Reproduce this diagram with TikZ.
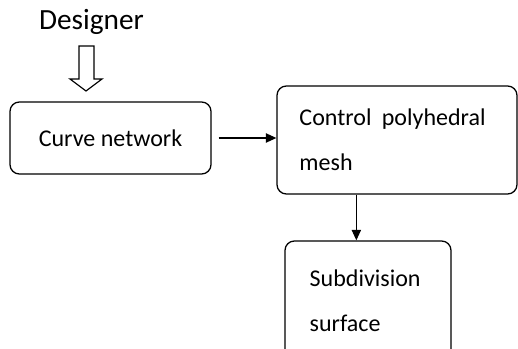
\documentclass[tikz,border=0pt]{standalone}
\usepackage{fontspec}
\setmainfont{Carlito}
\usepackage{tikz}
\usetikzlibrary{positioning, calc, arrows.meta}

\tikzset{
	stagebox/.style={draw, line width=1.1pt, rounded corners=8pt, inner sep=0pt, align=left, font=\fontsize{20.5}{38}\selectfont},
	flowarrow/.style={line width=1pt, -{Triangle[length=9pt, width=8pt]}}
}

\begin{document}
\begin{tikzpicture}[x=0.03cm, y=-0.03cm]
	\useasboundingbox (0,0) rectangle (518,349);
	\clip (0,0) rectangle (518,349);
	
	\node[anchor=base west, font=\fontsize{25}{28}\selectfont] (designer) at (35,30) {Designer};
	
	\node[stagebox, minimum width=6.03cm, minimum height=2.16cm] (network) at (110.5,138) {Curve network};
	\node[stagebox, minimum width=7.2cm, minimum height=3.24cm, text width=5.85cm] (control) at (397,140) {Control\hspace{2pt} polyhedral\\mesh};
	\node[stagebox, minimum width=4.98cm, minimum height=3.6cm, text width=3.5cm] (subdiv) at (368,301) {Subdivision\\surface};
	
	%% hollow arrow from the designer
	\draw[line width=1pt] (79,46) -- (94,46) -- (94,79) -- (102,79) -- (86,91) -- (70,79) -- (79,79) -- cycle;
	
	\draw[flowarrow, shorten <=6pt] (network.east) -- (control.west |- network.east);
	\draw[flowarrow] ([xshift=2.4cm]control.south west) -- ([xshift=2.4cm]control.south west |- subdiv.north);
\end{tikzpicture}
\end{document}
